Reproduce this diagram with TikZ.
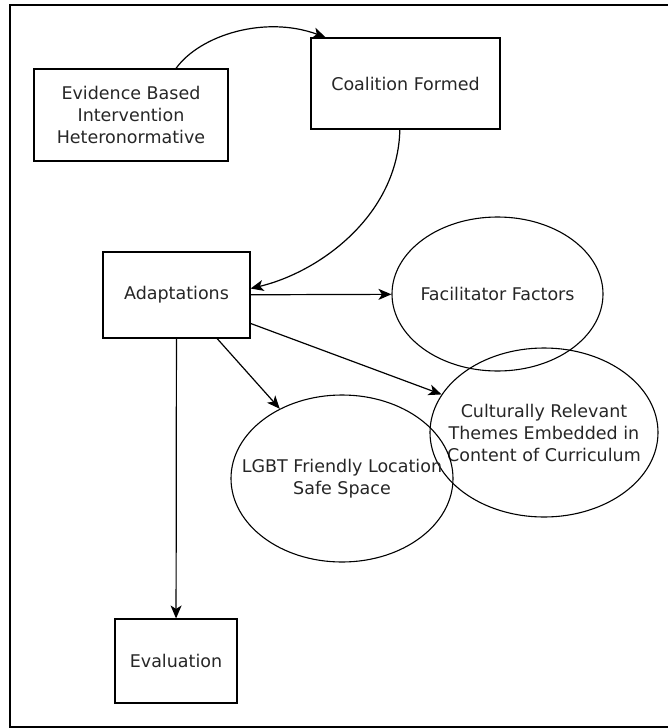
\documentclass[tikz,border=0pt]{standalone}
\usepackage{fontspec}
\setmainfont{DejaVu Sans}
\usetikzlibrary{arrows.meta,shapes.geometric}

\tikzset{
  lbl/.style={font=\fontsize{17.5}{22}\selectfont, text=black!85, align=center, inner sep=0pt},
  stepbox/.style={draw, line width=1.1pt, rectangle, inner sep=0pt, lbl},
  oval/.style={draw, line width=1.1pt, ellipse, inner sep=0pt},
  arr/.style={line width=1.2pt, -{Stealth[length=13pt,width=11pt,inset=3.5pt]}},
  frameline/.style={line width=2pt}
}

\begin{document}
\begin{tikzpicture}[x=1pt, y=-1pt]
  \useasboundingbox (0,0) rectangle (668,728);
  \clip (0,0) rectangle (668,728);

  % outer frame (runs off the right edge)
  \draw[frameline] (680,5) -- (10,5) -- (10,727) -- (680,727);

  % boxes
  \node[stepbox, minimum width=194pt, minimum height=92pt] (ev) at (131,115)
    {Evidence Based\\Intervention\\Heteronormative};
  \node[stepbox, minimum width=189pt, minimum height=91pt] (co) at (405.5,83.5)
    {Coalition Formed};
  \node[stepbox, minimum width=147pt, minimum height=86pt] (ad) at (176.5,295)
    {Adaptations};
  \node[stepbox, minimum width=122pt, minimum height=84pt] (evl) at (176,661)
    {Evaluation};

  % ovals, with their labels set separately so the text may cross the outline
  \node[oval, minimum width=211pt, minimum height=154pt] (fa) at (497.5,294) {};
  \node[lbl] (fa-t) at (fa.center) {Facilitator Factors};

  \node[oval, minimum width=228pt, minimum height=169pt] (cu) at (544,432.5) {};
  \node[lbl] (cu-t) at (cu.center) {Culturally Relevant\\Themes Embedded in\\Content of Curriculum};

  \node[oval, minimum width=222pt, minimum height=167pt] (lg) at (342,478.5) {};
  \node[lbl] (lg-t) at (lg.center) {LGBT Friendly Location\\Safe Space};

  % connectors
  \draw[arr] (ev.46) .. controls (200,35) and (265,15) .. (co.150);
  \draw[arr] (co.263) .. controls (398,215) and (320,272) .. (ad.5);
  \draw[arr] (ad) -- (fa);
  \draw[arr] (ad.-21) -- (cu);
  \draw[arr] (ad.-47) -- (lg);
  \draw[arr] (ad) -- (evl);
\end{tikzpicture}
\end{document}
